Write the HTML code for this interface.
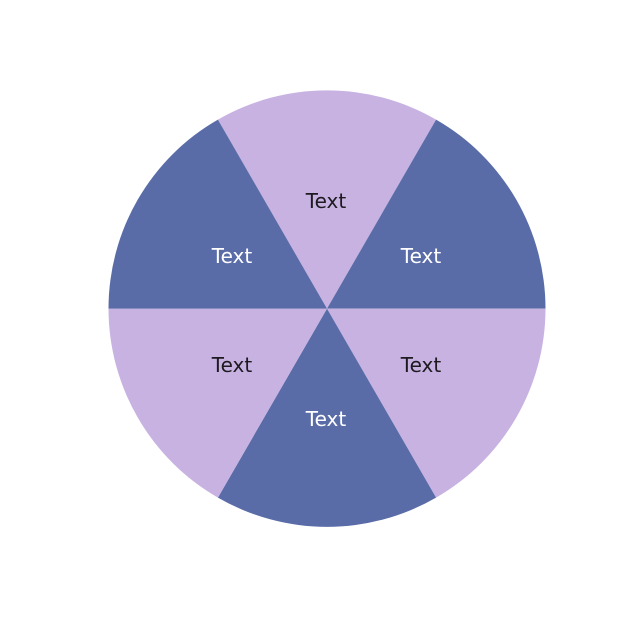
<!DOCTYPE html>
<html>
<head>
<meta charset="utf-8">
<style>
html,body{margin:0;padding:0;background:#fff;width:640px;height:635px;overflow:hidden}
svg{display:block}
text{font-family:"DejaVu Sans",sans-serif;font-size:20px;text-anchor:middle}
</style>
</head>
<body>
<svg width="640" height="635" viewBox="0 0 640 635" xmlns="http://www.w3.org/2000/svg">
<path d="M327 308.6L217.9 119.6A218.2 218.2 0 0 1 436.1 119.6Z" fill="#c8b2e2"/>
<path d="M327 308.6L436.1 119.6A218.2 218.2 0 0 1 545.5 308.6Z" fill="#5a6ca8"/>
<path d="M327 308.6L545.5 308.6A218.2 218.2 0 0 1 436.1 497.6Z" fill="#c8b2e2"/>
<path d="M327 308.6L436.1 497.6A218.2 218.2 0 0 1 217.9 497.6Z" fill="#5a6ca8"/>
<path d="M327 308.6L217.9 497.6A218.2 218.2 0 0 1 108.5 308.6Z" fill="#c8b2e2"/>
<path d="M327 308.6L108.5 308.6A218.2 218.2 0 0 1 217.9 119.6Z" fill="#5a6ca8"/>
<text x="326" y="208" fill="#1d1a20">Text</text>
<text x="421" y="263" fill="#ffffff">Text</text>
<text x="421" y="372" fill="#1d1a20">Text</text>
<text x="326" y="426" fill="#ffffff">Text</text>
<text x="232" y="372" fill="#1d1a20">Text</text>
<text x="232" y="263" fill="#ffffff">Text</text>
</svg>
</body>
</html>
